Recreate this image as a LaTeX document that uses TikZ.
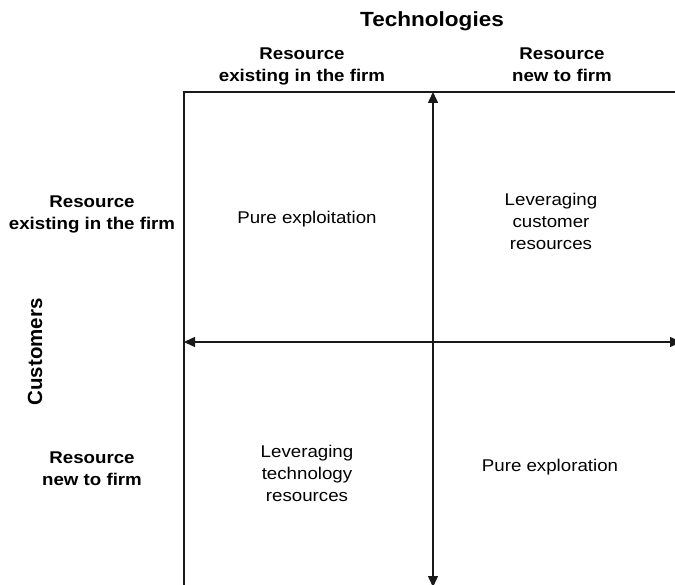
\documentclass[tikz,border=0pt]{standalone}
\usepackage{fontspec}
\setmainfont{Liberation Sans}[FakeStretch=1.1]
\newfontfamily\tallfont{Liberation Sans}
\usetikzlibrary{arrows.meta, positioning}

\begin{document}
\begin{tikzpicture}[x=1pt, y=-1pt,
    axis/.style={line width=1.5pt, draw=black!90},
    twoway/.style={axis, {Triangle[length=11pt,width=10pt]}-{Triangle[length=11pt,width=10pt]}},
    head/.style={font=\bfseries\fontsize{17}{22}\selectfont, align=center, inner sep=0pt},
    cell/.style={font=\fontsize{17}{22}\selectfont, align=center, inner sep=0pt}]
    \useasboundingbox (0,0) rectangle (675,585);

    \coordinate (corner) at (184,92);
    \coordinate (topright) at (675,92);
    \coordinate (bottomleft) at (184,585);
    \coordinate (top) at (433,92);
    \coordinate (bottom) at (433,587);
    \coordinate (left) at (184,342);
    \coordinate (right) at (681,342);

    \draw[axis] (bottomleft) -- (corner) -- (topright);
    \draw[twoway] (bottom) -- (top);
    \draw[twoway] (left) -- (right);

    % axis titles
    \node[anchor=base, inner sep=0pt, font=\bfseries\fontsize{20.5}{24}\selectfont] (tech) at (432,27) {Technologies};
    \node[rotate=90, inner sep=0pt, font=\tallfont\bfseries\fontsize{20.5}{24}\selectfont] (cust) at (35,352) {Customers};

    \node[head] (techold) at (302,66) {Resource\\existing in the firm};
    \node[head] (technew) at (562,65) {Resource\\new to firm};
    \node[head] (custold) at (92,214) {Resource\\existing in the firm};
    \node[head] (custnew) at (92,469) {Resource\\new to firm};

    % quadrants
    \node[cell] (exploit) at (307,219) {Pure exploitation};
    \node[cell] (levcust) at (551,221) {Leveraging\\customer\\resources};
    \node[cell] (levtech) at (307,473) {Leveraging\\technology\\resources};
    \node[cell] (explore) at (550,467) {Pure exploration};
\end{tikzpicture}
\end{document}
